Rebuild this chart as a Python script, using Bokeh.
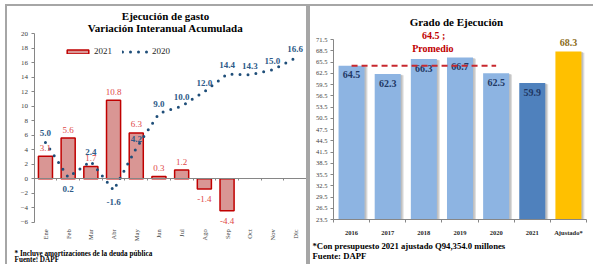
import math
from bokeh.plotting import figure
from bokeh.models import (Range1d, FixedTicker, LinearAxis, Label, Legend,
                          LegendItem, ColumnDataSource)
from bokeh.layouts import row
from bokeh.embed import file_html
from bokeh.resources import INLINE

# ---------------- data ----------------
months = ["Ene", "Feb", "Mar", "Abr", "May", "Jun", "Jul", "Ago", "Sep", "Oct", "Nov", "Dic"]
gasto_2021 = [3.1, 5.6, 1.7, 10.8, 6.3, 0.3, 1.2, -1.4, -4.4]
gasto_2020 = [5.0, 0.2, 2.4, -1.6, 4.2, 9.0, 10.0, 12.0, 14.4, 14.3, 15.0, 16.6]
left_yticks = [-6, -4, -2, 0, 2, 4, 6, 8, 10, 12, 14, 16, 18, 20]

years = ["2016", "2017", "2018", "2019", "2020", "2021", "Ajustado*"]
grado = [64.5, 62.3, 66.3, 66.7, 62.5, 59.9, 68.3]
promedio = 64.5
right_yticks = [23.5, 26.5, 29.5, 32.5, 35.5, 38.5, 41.5, 44.5, 47.5, 50.5,
                53.5, 56.5, 59.5, 62.5, 65.5, 68.5, 71.5]

SERIF = "Liberation Serif"
FRAME = "2px solid #A6A6A6"
AXC = "#868686"

def fig(w, xr, yr, styles):
    p = figure(width=w, height=260, x_range=xr, y_range=yr,
               output_backend="svg", toolbar_location=None,
               x_axis_type=None, y_axis_type=None,
               min_border_left=0, min_border_right=0, min_border_top=0, min_border_bottom=0)
    p.outline_line_color = None
    p.grid.visible = False
    p.styles = styles
    return p

# ---------------- left chart ----------------
nM = len(months)
L = fig(303, Range1d(-1.172, nM + 0.176), Range1d(-12.09, 23.72),
        {"margin-left": "5px", "margin-top": "4px",
         "border-top": FRAME, "border-left": FRAME, "border-right": FRAME})

ya = LinearAxis(ticker=FixedTicker(ticks=left_yticks), fixed_location=0,
                bounds=(left_yticks[0], left_yticks[-1]))
ya.axis_line_color = AXC
ya.major_tick_line_color = AXC
ya.major_tick_in = 0
ya.major_tick_out = 3
ya.minor_tick_line_color = None
ya.major_label_text_font = SERIF
ya.major_label_text_font_size = "7px"
ya.major_label_text_color = "#404040"
ya.major_label_standoff = 3
L.add_layout(ya, "left")

# zero line with small ticks between categories
za = LinearAxis(ticker=FixedTicker(ticks=[], minor_ticks=list(range(nM + 1))),
                fixed_location=0, bounds=(0, nM))
za.axis_line_color = AXC
za.major_tick_line_color = None
za.minor_tick_line_color = AXC
za.minor_tick_in = 0
za.minor_tick_out = 2
za.major_label_text_font_size = "0px"
L.add_layout(za, "below")

m_centers = [i + 0.5 for i in range(nM)]
xa = LinearAxis(ticker=FixedTicker(ticks=m_centers), fixed_location=left_yticks[0],
                bounds=(0, nM),
                major_label_overrides={c: m for c, m in zip(m_centers, months)})
xa.axis_line_color = None
xa.major_tick_line_color = None
xa.major_tick_in = 0
xa.major_tick_out = 0
xa.minor_tick_line_color = None
xa.major_label_orientation = math.pi / 2
xa.major_label_text_font = SERIF
xa.major_label_text_font_size = "6.5px"
xa.major_label_text_color = "#404040"
xa.major_label_standoff = 7
L.add_layout(xa, "below")

x21 = m_centers[:len(gasto_2021)]
bars = L.vbar(x=x21, top=gasto_2021, bottom=0, width=0.62,
              fill_color="#D99694", line_color="#C00000", line_width=1.5)
line20 = L.line(x=m_centers, y=gasto_2020, line_color="#1F4E79", line_width=3,
                line_dash="0 8", line_cap="round")

lab21 = ColumnDataSource(dict(
    x=x21,
    y=[v + 1.17 if v >= 0 else v - 1.38 for v in gasto_2021],
    t=[f"{v:.1f}" for v in gasto_2021]))
L.text(x="x", y="y", text="t", source=lab21, text_align="center", text_baseline="middle",
       text_font=SERIF, text_font_size="9px", text_color="#E04848")

def _below(i, vals):
    nb = [vals[j] for j in (i - 1, i + 1) if 0 <= j < len(vals)]
    return vals[i] < min(nb) - 1

lab20 = ColumnDataSource(dict(
    x=m_centers,
    y=[v - 1.55 if _below(i, gasto_2020) else v + 1.24 for i, v in enumerate(gasto_2020)],
    t=[f"{v:.1f}" for v in gasto_2020]))
L.text(x="x", y="y", text="t", source=lab20, text_align="center", text_baseline="middle",
       text_font=SERIF, text_font_size="9px", text_font_style="bold", text_color="#2E5A88")

legend = Legend(items=[LegendItem(label="2021", renderers=[bars]),
                       LegendItem(label="2020", renderers=[line20])],
                orientation="horizontal", location=(57, 210),
                glyph_width=27, glyph_height=5, label_height=8, label_standoff=3,
                spacing=8, padding=0, margin=0,
                background_fill_alpha=0, border_line_color=None,
                label_text_font=SERIF, label_text_font_size="9px",
                label_text_color="#262626")
L.add_layout(legend, "center")

def note(p, x, y, text, size, align="center"):
    p.add_layout(Label(x=x, y=y, text=text, text_align=align, text_baseline="middle",
                       text_font=SERIF, text_font_size=size, text_font_style="bold",
                       text_color="#000000"))

note(L, 5.79, 22.37, "Ejecución de gasto", "11px")
note(L, 5.79, 20.76, "Variación Interanual Acumulada", "11px")
note(L, -0.863, -10.3, "* Incluye amortizaciones de la deuda pública", "7.2px", "left")
note(L, -0.863, -11.2, "Fuente:  DAPF", "7.2px", "left")

# ---------------- right chart ----------------
nY = len(years)
R = fig(285, Range1d(-0.636, nY + 0.249), Range1d(11.05, 80.3),
        {"margin-top": "4px", "border-top": FRAME, "border-left": FRAME})

rya = LinearAxis(ticker=FixedTicker(ticks=right_yticks), fixed_location=0,
                 bounds=(right_yticks[0], right_yticks[-1]))
rya.axis_line_color = AXC
rya.major_tick_line_color = AXC
rya.major_tick_in = 0
rya.major_tick_out = 3
rya.minor_tick_line_color = None
rya.major_label_text_font = SERIF
rya.major_label_text_font_size = "6.5px"
rya.major_label_text_color = "#404040"
rya.major_label_standoff = 3
R.add_layout(rya, "left")

y_centers = [i + 0.5 for i in range(nY)]
rxa = LinearAxis(ticker=FixedTicker(ticks=y_centers, minor_ticks=list(range(nY + 1))),
                 fixed_location=right_yticks[0], bounds=(0, nY),
                 major_label_overrides={c: y for c, y in zip(y_centers, years)})
rxa.axis_line_color = AXC
rxa.major_tick_line_color = None
rxa.major_tick_in = 0
rxa.major_tick_out = 0
rxa.minor_tick_line_color = AXC
rxa.minor_tick_in = 0
rxa.minor_tick_out = 3
rxa.major_label_text_font = SERIF
rxa.major_label_text_font_size = "6.5px"
rxa.major_label_text_font_style = "bold"
rxa.major_label_text_color = "#262626"
rxa.major_label_standoff = 6
R.add_layout(rxa, "below")

base = right_yticks[0]
R.vbar(x=[c + 0.08 for c in y_centers], top=[v - 0.3 for v in grado], bottom=base,
       width=0.72, fill_color="#9C9C9C", fill_alpha=0.35, line_color=None)
R.vbar(x=[c + 0.045 for c in y_centers], top=[v - 0.15 for v in grado], bottom=base,
       width=0.72, fill_color="#8C8C8C", fill_alpha=0.35, line_color=None)
bar_colors = ["#8DB4E2"] * 5 + ["#4F81BD", "#FFC000"]
R.vbar(x=y_centers, top=grado, bottom=base, width=0.72, fill_color=bar_colors, line_color=None)

inside = [True] * 6 + [False]
labr = ColumnDataSource(dict(
    x=y_centers,
    y=[v - 2.4 if ins else v + 2.3 for v, ins in zip(grado, inside)],
    t=[f"{v:.1f}" for v in grado],
    c=["#1F3864" if ins else "#8C6D1A" for ins in inside]))
R.text(x="x", y="y", text="t", source=labr, text_align="center", text_baseline="middle",
       text_font=SERIF, text_font_size="10px", text_font_style="bold", text_color="c")

R.line(x=[y_centers[0], y_centers[4]], y=[promedio, promedio], line_color="#C8282E",
       line_width=2, line_dash="6 4")

R.add_layout(Label(x=2.77, y=72.6, text=f"{promedio:.1f} ;", text_align="center",
                   text_baseline="middle", text_font=SERIF, text_font_size="10px",
                   text_font_style="bold", text_color="#C00000"))
R.add_layout(Label(x=2.75, y=69.2, text="Promedio", text_align="center",
                   text_baseline="middle", text_font=SERIF, text_font_size="10px",
                   text_font_style="bold", text_color="#C00000"))
note(R, 3.4, 76.1, "Grado de Ejecución", "11px")
note(R, -0.58, 16.46, "*Con presupuesto 2021 ajustado Q94,354.0 millones", "8.7px", "left")
note(R, -0.58, 13.8, "Fuente: DAPF", "8.7px", "left")

layout = row(L, R, spacing=0)
open("out.html", "w").write(file_html(layout, INLINE))
